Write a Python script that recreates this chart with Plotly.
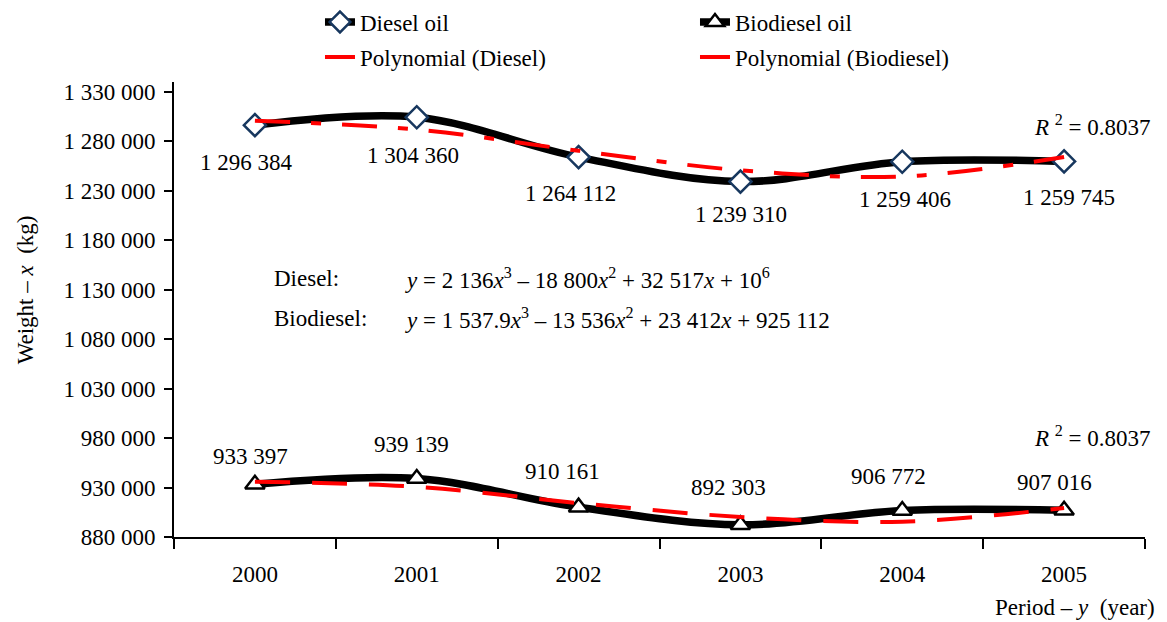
import plotly.graph_objects as go

# Years on the category axis
years = ["2000", "2001", "2002", "2003", "2004", "2005"]

# Measured weights (kg)
diesel = [1296384, 1304360, 1264112, 1239310, 1259406, 1259745]
biodiesel = [933397, 939139, 910161, 892303, 906772, 907016]

# Third-order polynomial trend values at each year
poly_diesel = [1300800, 1292000, 1270500, 1250800, 1244500, 1264200]
poly_biodiesel = [935900, 930800, 914300, 900300, 895500, 909300]

# Value labels
diesel_labels = ["1 296 384", "1 304 360", "1 264 112", "1 239 310", "1 259 406", "1 259 745"]
biodiesel_labels = ["933 397", "939 139", "910 161", "892 303", "906 772", "907 016"]

# Y axis ticks
y_ticks = [880000, 930000, 980000, 1030000, 1080000, 1130000, 1180000, 1230000, 1280000, 1330000]
y_ticktext = ["880 000", "930 000", "980 000", "1 030 000", "1 080 000", "1 130 000",
              "1 180 000", "1 230 000", "1 280 000", "1 330 000"]

FONT = "Liberation Serif"
FS = 23

fig = go.Figure()

fig.add_trace(go.Scatter(
    x=years, y=diesel, name="Diesel oil", mode="lines+markers",
    line=dict(color="black", width=7.5, shape="spline", smoothing=1),
    marker=dict(symbol="diamond", size=17, color="white",
                line=dict(color="#17375E", width=2.5)),
    legend="legend",
))
fig.add_trace(go.Scatter(
    x=years, y=biodiesel, name="Biodiesel oil", mode="lines+markers",
    line=dict(color="black", width=7.5, shape="spline", smoothing=1),
    marker=dict(symbol="triangle-up", size=17, color="white",
                line=dict(color="black", width=2.5)),
    legend="legend",
))
fig.add_trace(go.Scatter(
    x=years, y=poly_diesel, name="Polynomial (Diesel)", mode="lines",
    line=dict(color="#FF0000", width=4, shape="spline", smoothing=1,
              dash="35px,21px,10px,21px"),
    legend="legend2",
))
fig.add_trace(go.Scatter(
    x=years, y=poly_biodiesel, name="Polynomial (Biodiesel)", mode="lines",
    line=dict(color="#FF0000", width=4, shape="spline", smoothing=1,
              dash="35px,22px"),
    legend="legend2",
))

annotations = []
# Value labels: category axis positions are given by index
d_shift = [(-8, -37), (-4, -38), (-8, -36), (1, -33), (3, -38), (5, -36)]
for i, (v, t, (dx, dy)) in enumerate(zip(diesel, diesel_labels, d_shift)):
    annotations.append(dict(x=i, y=v, xref="x", yref="y", text=t, showarrow=False,
                            xshift=dx, yshift=dy, font=dict(family=FONT, size=FS, color="black")))
b_shift = [(-4, 28), (-5, 34), (-16, 36), (-12, 37), (-14, 34), (-10, 28)]
for i, (v, t, (dx, dy)) in enumerate(zip(biodiesel, biodiesel_labels, b_shift)):
    annotations.append(dict(x=i, y=v, xref="x", yref="y", text=t, showarrow=False,
                            xshift=dx, yshift=dy, font=dict(family=FONT, size=FS, color="black")))

# Trend-line statistics and equations
r2_text = "<i>R</i> <sup>2</sup> = 0.8037"
annotations += [
    dict(x=1.008, y=0.905, xref="paper", yref="paper", text=r2_text, showarrow=False,
         xanchor="right", yanchor="middle", font=dict(family=FONT, size=FS)),
    dict(x=1.008, y=0.220, xref="paper", yref="paper", text=r2_text, showarrow=False,
         xanchor="right", yanchor="middle", font=dict(family=FONT, size=FS)),
    dict(x=0.101, y=0.568, xref="paper", yref="paper", text="Diesel:", showarrow=False,
         xanchor="left", yanchor="middle", font=dict(family=FONT, size=FS)),
    dict(x=0.236, y=0.568, xref="paper", yref="paper",
         text="<i>y</i> = 2 136<i>x</i><sup>3</sup> – 18 800<i>x</i><sup>2</sup> + 32 517<i>x</i> + 10<sup>6</sup>",
         showarrow=False, xanchor="left", yanchor="middle", font=dict(family=FONT, size=FS)),
    dict(x=0.101, y=0.481, xref="paper", yref="paper", text="Biodiesel:", showarrow=False,
         xanchor="left", yanchor="middle", font=dict(family=FONT, size=FS)),
    dict(x=0.236, y=0.481, xref="paper", yref="paper",
         text="<i>y</i> = 1 537.9<i>x</i><sup>3</sup> – 13 536<i>x</i><sup>2</sup> + 23 412<i>x</i> + 925 112",
         showarrow=False, xanchor="left", yanchor="middle", font=dict(family=FONT, size=FS)),
    # Axis titles
    dict(x=1.012, y=-0.154, xref="paper", yref="paper",
         text="Period – <i>y</i>\u00a0 (year)", showarrow=False,
         xanchor="right", yanchor="middle", font=dict(family=FONT, size=FS)),
    dict(x=-0.153, y=0.543, xref="paper", yref="paper",
         text="Weight – <i>x</i>\u00a0 (kg)", showarrow=False, textangle=-90,
         xanchor="center", yanchor="middle", font=dict(family=FONT, size=FS)),
]

fig.update_layout(
    width=1167, height=622,
    margin=dict(l=174, r=22, t=82, b=85, autoexpand=False),
    paper_bgcolor="white", plot_bgcolor="white",
    font=dict(family=FONT, size=FS, color="black"),
    annotations=annotations,
    legend=dict(orientation="h", xref="container", yref="container",
                x=0.2742, y=0.9646, xanchor="left", yanchor="middle",
                entrywidth=330, font=dict(family=FONT, size=FS), bgcolor="rgba(0,0,0,0)"),
    legend2=dict(orientation="h", xref="container", yref="container",
                 x=0.2742, y=0.9084, xanchor="left", yanchor="middle",
                 entrywidth=330, font=dict(family=FONT, size=FS), bgcolor="rgba(0,0,0,0)"),
    xaxis=dict(type="category", categoryorder="array", categoryarray=years,
               range=[-0.5, 5.5], showline=True, linecolor="black", linewidth=2,
               ticks="outside", tickson="boundaries", ticklen=10, tickwidth=2,
               tickcolor="black", showgrid=False, zeroline=False,
               ticklabelstandoff=15, tickfont=dict(family=FONT, size=FS)),
    yaxis=dict(range=[880000, 1340000], showline=True, linecolor="black", linewidth=2,
               ticks="outside", ticklen=8, tickwidth=2, tickcolor="black",
               tickvals=y_ticks, ticktext=y_ticktext, showgrid=False, zeroline=False,
               ticklabelstandoff=4, tickfont=dict(family=FONT, size=FS)),
)

fig.write_html("out.html")
